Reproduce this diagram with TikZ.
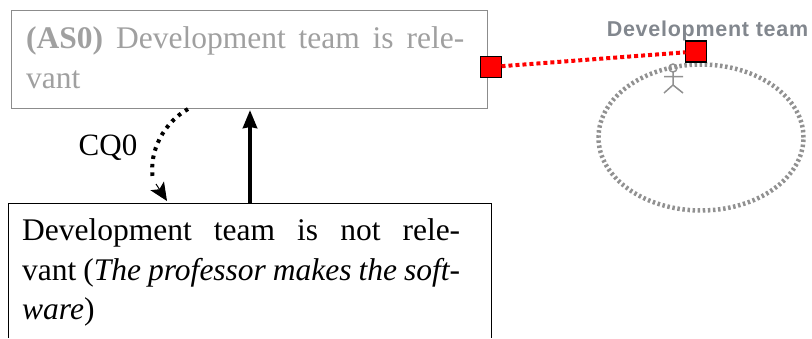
\documentclass[tikz,border=0pt]{standalone}
\usepackage{fontspec}
\setmainfont{Liberation Serif}
\newfontfamily\labelsans[LetterSpace=3.4]{Liberation Sans}
\usetikzlibrary{arrows.meta,shapes.geometric}
\definecolor{fadedtext}{RGB}{160,160,160}
\definecolor{fadedline}{RGB}{140,140,140}
\definecolor{labelgray}{RGB}{130,135,142}
\definecolor{actorgray}{RGB}{145,145,145}
\tikzset{
  x=1pt,y=-1pt,
  handle/.style={draw=black,fill=red,line width=1.2pt,minimum size=21pt,inner sep=0pt,outer sep=0pt},
  para/.style={font=\fontsize{31.5}{39.5}\selectfont,text width=438pt,anchor=north west,inner sep=0pt,align=justify},
  flow/.style={-{Stealth[length=18pt,width=14pt,inset=1pt]},black},
  actorline/.style={draw=actorgray,line width=1.5pt},
}
\begin{document}
\begin{tikzpicture}
\useasboundingbox (0,0) rectangle (812,338);
% boxes
\node[draw=fadedline,line width=1pt,minimum width=476pt,minimum height=98pt,inner sep=0pt,outer sep=0pt,anchor=north west] (as0) at (11.5,10) {};
\node[minimum width=482.5pt,minimum height=135pt,inner sep=0pt,outer sep=0pt,anchor=north west] (cq) at (8.5,203) {};
\draw[black,line width=1pt] (cq.south west) -- (cq.north west) -- (cq.north east) -- (cq.south east);
% texts
\node[para,text=fadedtext] (as0text) at (26,26.5) {\textbf{(AS0)} Development team is rele-\linebreak vant};
\node[para,text=black] (cqtext) at (22,218.5) {Development team is not rele-\linebreak vant (\textit{The professor makes the soft-\linebreak ware})};
\node[font=\fontsize{31}{36}\selectfont,anchor=center,inner sep=0pt] (cqlabel) at (108,148) {CQ0};
% connectors
\coordinate (upfoot) at (250,203);
\coordinate (uphead) at (250,110);
\draw[flow,line width=4pt] (upfoot) -- (uphead);
\coordinate (cqstart) at (188,109);
\coordinate (cqend) at (167,201);
\draw[black,line width=4pt,dash pattern=on 3.5pt off 5pt] (cqstart) .. controls (165,122) and (148,150) .. (153,180);
\draw[black,-{Stealth[length=18pt,width=16pt,inset=4pt]},line width=1pt] (156,184) -- (cqend);
% actor ellipse
\node[draw=actorgray,line width=4.5pt,dash pattern=on 2.5pt off 2.6pt,ellipse,minimum width=205pt,minimum height=146pt,inner sep=0pt] (bound) at (701,137.5) {};
\node[font=\labelsans\bfseries\fontsize{21.5}{24}\selectfont,text=labelgray,inner sep=0pt,anchor=center] (devlabel) at (707.5,30.5) {Development team};
\coordinate (head) at (673,68);
\draw[actorline] (head) circle (4pt);
\draw[actorline] (673,72) -- (673,85) (664,76.5) -- (683,76.5) (664,93) -- (673,85) -- (683,93);
% handles
\node[handle] (h1) at (491,67) {};
\node[handle] (h2) at (696,51.5) {};
\draw[red,line width=4pt,dash pattern=on 4pt off 3pt] (h1) -- (h2);
\end{tikzpicture}
\end{document}
